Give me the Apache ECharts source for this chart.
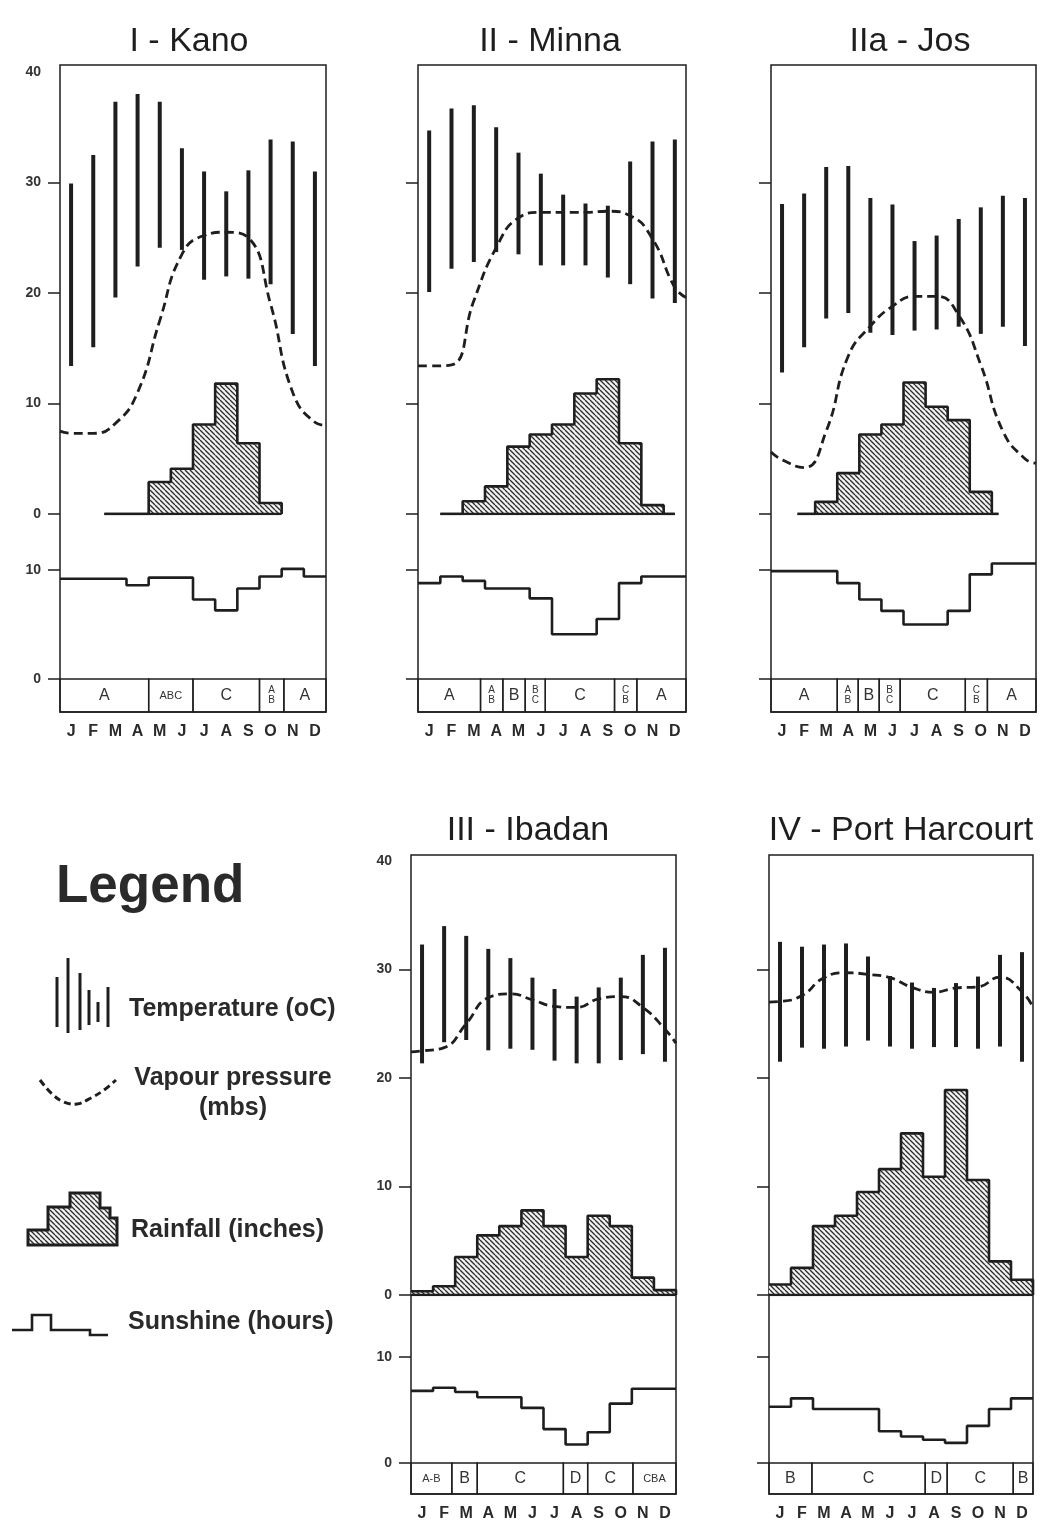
<!DOCTYPE html>
<html>
<head>
<meta charset="utf-8">
<script src="https://cdn.jsdelivr.net/npm/echarts@6/dist/echarts.min.js"></script>
<style>
  html, body { margin: 0; padding: 0; background: #fff; }
  #chart { width: 1047px; height: 1533px; }
</style>
</head>
<body>
<div id="chart"></div>
<script>
// month letters along every panel
const months = ['J', 'F', 'M', 'A', 'M', 'J', 'J', 'A', 'S', 'O', 'N', 'D'];

// I - Kano
const kanoTmax = [29.9, 32.5, 37.3, 38.0, 37.3, 33.1, 31.0, 29.2, 31.1, 33.9, 33.7, 31.0];
const kanoTmin = [13.4, 15.1, 19.6, 22.4, 24.1, 23.9, 21.2, 21.5, 21.3, 20.8, 16.3, 13.4];
const kanoVap = [7.3, 7.3, 8.2, 11.0, 17.5, 23.5, 25.2, 25.5, 25.0, 19.0, 11.0, 8.3];
const kanoVapEdge = [7.5, 8.0];
const kanoRain = [null, null, 0, 0, 2.9, 4.1, 8.1, 11.8, 6.4, 1.0, null, null];
const kanoRainSpan = [2, 10];
const kanoSun = [9.2, 9.2, 9.2, 8.6, 9.3, 9.3, 7.3, 6.3, 8.3, 9.4, 10.1, 9.4];
const kanoAir = [[0, 4, 'A'], [4, 6, 'ABC'], [6, 9, 'C'], [9, 10.1, 'A\nB'], [10.1, 12, 'A']];

// II - Minna
const minnaTmax = [34.7, 36.7, 37.0, 35.0, 32.7, 30.8, 28.9, 28.1, 27.9, 31.9, 33.7, 33.9];
const minnaTmin = [20.1, 22.2, 22.8, 23.7, 23.5, 22.5, 22.5, 22.5, 21.4, 20.8, 19.5, 19.1];
const minnaVap = [13.4, 13.5, 19.3, 24.1, 26.8, 27.3, 27.3, 27.3, 27.4, 27.0, 24.9, 20.5];
const minnaVapEdge = [13.4, 19.6];
const minnaRain = [null, 0, 1.15, 2.5, 6.1, 7.2, 8.1, 10.9, 12.2, 6.4, 0.8, 0];
const minnaRainSpan = [1, 11.5];
const minnaSun = [8.8, 9.4, 9.0, 8.3, 8.3, 7.4, 4.1, 4.1, 5.5, 8.8, 9.4, 9.4];
const minnaAir = [[0, 2.8, 'A'], [2.8, 3.8, 'A\nB'], [3.8, 4.8, 'B'], [4.8, 5.7, 'B\nC'], [5.7, 8.8, 'C'], [8.8, 9.8, 'C\nB'], [9.8, 12, 'A']];

// IIa - Jos
const josTmax = [28.05, 29.0, 31.4, 31.5, 28.6, 28.0, 24.7, 25.2, 26.7, 27.75, 28.8, 28.6];
const josTmin = [12.8, 15.1, 17.7, 18.2, 16.4, 16.2, 16.6, 16.7, 16.95, 16.3, 16.95, 15.2];
const josVap = [4.9, 4.2, 7.5, 14.3, 17.0, 18.8, 19.7, 19.7, 18.0, 13.5, 7.5, 5.0];
const josVapEdge = [5.6, 4.6];
const josRain = [null, 0, 1.1, 3.7, 7.2, 8.1, 11.9, 9.7, 8.5, 2.0, 0, null];
const josRainSpan = [1.2, 10.3];
const josSun = [9.9, 9.9, 9.9, 8.8, 7.3, 6.25, 5.0, 5.0, 6.25, 9.6, 10.6, 10.6];
const josAir = [[0, 3, 'A'], [3, 3.95, 'A\nB'], [3.95, 4.9, 'B'], [4.9, 5.85, 'B\nC'], [5.85, 8.8, 'C'], [8.8, 9.8, 'C\nB'], [9.8, 12, 'A']];

// III - Ibadan
const ibadanTmax = [32.3, 34.0, 33.1, 31.9, 31.05, 29.25, 28.2, 27.5, 28.35, 29.25, 31.35, 32.0];
const ibadanTmin = [21.35, 23.3, 23.5, 22.55, 22.7, 22.6, 21.6, 21.35, 21.35, 21.65, 22.2, 21.5];
const ibadanVap = [22.5, 22.8, 25.0, 27.4, 27.75, 27.2, 26.6, 26.5, 27.3, 27.5, 26.5, 24.5];
const ibadanVapEdge = [22.4, 23.2];
const ibadanRain = [0.34, 0.8, 3.5, 5.5, 6.35, 7.8, 6.35, 3.5, 7.3, 6.35, 1.6, 0.45];
const ibadanRainSpan = [0, 12];
const ibadanSun = [6.8, 7.1, 6.7, 6.2, 6.2, 5.2, 3.2, 1.75, 2.9, 5.6, 7.0, 7.0];
const ibadanAir = [[0, 1.85, 'A-B'], [1.85, 3, 'B'], [3, 6.9, 'C'], [6.9, 8, 'D'], [8, 10.05, 'C'], [10.05, 12, 'CBA']];

// IV - Port Harcourt
const phTmax = [32.55, 32.1, 32.3, 32.4, 31.2, 29.4, 28.8, 28.3, 28.75, 29.35, 31.35, 31.6];
const phTmin = [21.5, 22.8, 22.7, 22.9, 23.45, 22.9, 22.7, 22.85, 22.85, 22.7, 22.9, 21.5];
const phVap = [27.05, 27.6, 29.25, 29.7, 29.55, 29.25, 28.35, 27.9, 28.3, 28.4, 29.3, 27.95];
const phVapEdge = [27.0, 26.5];
const phRain = [0.97, 2.5, 6.35, 7.3, 9.5, 11.6, 14.9, 10.9, 18.9, 10.6, 3.1, 1.4];
const phRainSpan = [0, 12];
const phSun = [5.3, 6.1, 5.1, 5.1, 5.1, 3.0, 2.5, 2.2, 1.9, 3.5, 5.1, 6.1];
const phAir = [[0, 1.95, 'B'], [1.95, 7.1, 'C'], [7.1, 8.1, 'D'], [8.1, 11.1, 'C'], [11.1, 12, 'B']];

const tempTicks = [0, 10, 20, 30];
const tempLabels = [0, 10, 20, 30, 40];
const sunTicks = [0, 10];

const INK = '#1e1e1e';
const FONT = '"Liberation Sans", Arial, sans-serif';

// rows of panels (pixel layout)
const rows = {
  top:    { frameTop: 65,  tTop: 72,  tZero: 514,  sTop: 570,  sZero: 679,  stripBot: 712,  titleY: 42 },
  bottom: { frameTop: 855, tTop: 861, tZero: 1295, sTop: 1357, sZero: 1463, stripBot: 1494, titleY: 831 }
};

const panels = [
  { title: 'I - Kano', titleX: 189, left: 60, right: 326, row: rows.top, labels: true,
    tmax: kanoTmax, tmin: kanoTmin, vap: kanoVap, vapEdge: kanoVapEdge, rain: kanoRain, rainSpan: kanoRainSpan, sun: kanoSun, air: kanoAir },
  { title: 'II - Minna', titleX: 550, left: 418, right: 686, row: rows.top, labels: false,
    tmax: minnaTmax, tmin: minnaTmin, vap: minnaVap, vapEdge: minnaVapEdge, rain: minnaRain, rainSpan: minnaRainSpan, sun: minnaSun, air: minnaAir },
  { title: 'IIa - Jos', titleX: 910, left: 771, right: 1036, row: rows.top, labels: false,
    tmax: josTmax, tmin: josTmin, vap: josVap, vapEdge: josVapEdge, rain: josRain, rainSpan: josRainSpan, sun: josSun, air: josAir },
  { title: 'III - Ibadan', titleX: 528, left: 411, right: 676, row: rows.bottom, labels: true,
    tmax: ibadanTmax, tmin: ibadanTmin, vap: ibadanVap, vapEdge: ibadanVapEdge, rain: ibadanRain, rainSpan: ibadanRainSpan, sun: ibadanSun, air: ibadanAir },
  { title: 'IV - Port Harcourt', titleX: 901, left: 769, right: 1033, row: rows.bottom, labels: false,
    tmax: phTmax, tmin: phTmin, vap: phVap, vapEdge: phVapEdge, rain: phRain, rainSpan: phRainSpan, sun: phSun, air: phAir }
];

// diagonal hatching used for rainfall
function makeHatch() {
  const s = 5;
  const c = document.createElement('canvas');
  c.width = s; c.height = s;
  const g = c.getContext('2d');
  g.fillStyle = '#f2f2f2';
  g.fillRect(0, 0, s, s);
  g.strokeStyle = '#2a2a2a';
  g.lineWidth = 1.3;
  g.beginPath();
  [-s, 0, s].forEach(o => { g.moveTo(o, 0); g.lineTo(o + s, s); });
  g.stroke();
  return c;
}
const hatchFill = { image: makeHatch(), repeat: 'repeat' };

function hiddenX(gi) {
  return { type: 'value', gridIndex: gi, min: 0, max: 12, show: false, splitLine: { show: false } };
}
function hiddenY(gi) {
  return { type: 'value', gridIndex: gi, min: 0, max: 1, show: false, splitLine: { show: false } };
}
function valueY(gi, max, ticks, labels) {
  return {
    type: 'value', gridIndex: gi, min: 0, max: max,
    axisLine: { show: false },
    splitLine: { show: false },
    axisTick: { show: true, customValues: ticks, length: 12, lineStyle: { color: INK, width: 1.5 } },
    axisLabel: { show: !!labels, customValues: labels || ticks, margin: 19, fontSize: 14, fontWeight: 'bold', color: '#333', fontFamily: FONT }
  };
}
function monthAxis(gi) {
  return {
    type: 'value', gridIndex: gi, min: 0, max: 12,
    axisLine: { show: false }, axisTick: { show: false }, splitLine: { show: false },
    axisLabel: {
      customValues: months.map((m, i) => i + 0.5),
      formatter: v => months[Math.floor(v)],
      margin: 12, fontSize: 16, fontWeight: 'bold', color: '#2a2a2a', fontFamily: FONT
    }
  };
}

const grid = [], xAxis = [], yAxis = [], series = [], graphic = [];

panels.forEach((p, k) => {
  const r = p.row;
  const w = p.right - p.left;
  const base = 4 * k;
  grid.push({ left: p.left, top: r.frameTop, width: w, height: r.stripBot - r.frameTop, show: true,
    borderColor: INK, borderWidth: 1.5, backgroundColor: 'transparent', outerBoundsMode: 'none' });
  grid.push({ left: p.left, top: r.tTop, width: w, height: r.tZero - r.tTop, outerBoundsMode: 'none' });
  grid.push({ left: p.left, top: r.sTop, width: w, height: r.sZero - r.sTop, outerBoundsMode: 'none' });
  grid.push({ left: p.left, top: r.sZero, width: w, height: r.stripBot - r.sZero, outerBoundsMode: 'none' });

  xAxis.push(hiddenX(base), hiddenX(base + 1), hiddenX(base + 2), monthAxis(base + 3));
  yAxis.push(hiddenY(base),
    valueY(base + 1, 40, tempTicks, p.labels ? tempLabels : null),
    valueY(base + 2, 10, sunTicks, p.labels ? sunTicks : null),
    hiddenY(base + 3));

  const up = base + 1, sn = base + 2, st = base + 3;

  // rainfall: hatched columns
  const rainCols = [];
  p.rain.forEach((v, m) => { if (v) rainCols.push([m, v]); });
  series.push({
    type: 'custom', xAxisIndex: up, yAxisIndex: up, z: 2, silent: true,
    data: rainCols, encode: { x: 0, y: 1 },
    renderItem: (params, api) => {
      const m = api.value(0), v = api.value(1);
      const a = api.coord([m, 0]), b = api.coord([m + 1, v]);
      return { type: 'rect', shape: { x: a[0], y: b[1], width: b[0] - a[0], height: a[1] - b[1] },
        style: { fill: hatchFill } };
    }
  });
  // rainfall outline (stepped)
  const outline = [];
  p.rain.forEach((v, m) => { if (v !== null) outline.push([Math.max(m, p.rainSpan[0]), v]); });
  outline.push([p.rainSpan[1], 0]);
  series.push({
    type: 'line', xAxisIndex: up, yAxisIndex: up, z: 3, step: 'end', symbol: 'none', silent: true,
    data: outline, lineStyle: { color: INK, width: 2.6 }
  });
  series.push({
    type: 'line', xAxisIndex: up, yAxisIndex: up, z: 3, symbol: 'none', silent: true,
    data: [[p.rainSpan[0], 0], [p.rainSpan[1], 0]], lineStyle: { color: INK, width: 2.6 }
  });

  // vapour pressure (dashed)
  const vap = [[0, p.vapEdge[0]]].concat(p.vap.map((v, m) => [m + 0.5, v]), [[12, p.vapEdge[1]]]);
  series.push({
    type: 'line', xAxisIndex: up, yAxisIndex: up, z: 4, smooth: 0.5, symbol: 'none', silent: true,
    data: vap, lineStyle: { color: INK, width: 2.8, type: [9, 5] }
  });

  // temperature range bars
  series.push({
    type: 'custom', xAxisIndex: up, yAxisIndex: up, z: 5, silent: true,
    data: p.tmax.map((hi, m) => [m + 0.5, p.tmin[m], hi]), encode: { x: 0, y: [1, 2] },
    renderItem: (params, api) => {
      const x = api.value(0);
      const a = api.coord([x, api.value(1)]), b = api.coord([x, api.value(2)]);
      return { type: 'line', shape: { x1: a[0], y1: a[1], x2: b[0], y2: b[1] },
        style: { stroke: INK, lineWidth: 4, lineCap: 'butt' } };
    }
  });

  // sunshine (stepped)
  series.push({
    type: 'line', xAxisIndex: sn, yAxisIndex: sn, z: 4, step: 'end', symbol: 'none', silent: true, clip: false,
    data: p.sun.map((v, m) => [m, v]).concat([[12, p.sun[11]]]),
    lineStyle: { color: INK, width: 2.6 }
  });

  // air mass strip
  const air = p.air;
  series.push({
    type: 'custom', xAxisIndex: st, yAxisIndex: st, z: 4, silent: true,
    data: air.map(d => [d[0], d[1]]), encode: { x: [0, 1] },
    renderItem: (params, api) => {
      const a = api.coord([api.value(0), 0]), b = api.coord([api.value(1), 1]);
      const lab = air[params.dataIndex][2];
      const stacked = lab.indexOf('\n') >= 0;
      const size = stacked ? 10 : (lab.length > 1 ? 11 : 16);
      return {
        type: 'group', children: [
          { type: 'rect', shape: { x: a[0], y: b[1], width: b[0] - a[0], height: a[1] - b[1] },
            style: { fill: 'none', stroke: INK, lineWidth: 1.4 } },
          { type: 'text', x: (a[0] + b[0]) / 2, y: (a[1] + b[1]) / 2,
            style: { text: lab, fill: '#333', font: size + 'px ' + FONT, lineHeight: stacked ? 10 : size,
              textAlign: 'center', textVerticalAlign: 'middle', align: 'center', verticalAlign: 'middle' } }
        ]
      };
    }
  });

  graphic.push({ type: 'text', x: p.titleX, y: r.titleY, silent: true,
    style: { text: p.title, fill: INK, font: '34px ' + FONT,
      textAlign: 'center', textVerticalAlign: 'middle', align: 'center', verticalAlign: 'middle' } });
});

// legend block (drawn, lower left)
function legendText(text, x, y, size, weight, align) {
  return { type: 'text', x: x, y: y, silent: true,
    style: { text: text, fill: '#2a2a2a', font: weight + ' ' + size + 'px ' + FONT,
      textAlign: align, textVerticalAlign: 'middle', align: align, verticalAlign: 'middle' } };
}
graphic.push(legendText('Legend', 56, 887, 53, 'bold', 'left'));
[[57, 977, 1027], [68, 958, 1033], [80, 973, 1030], [89, 990, 1025], [98, 1002, 1022], [108, 987, 1027]].forEach(b => {
  graphic.push({ type: 'line', silent: true, shape: { x1: b[0], y1: b[1], x2: b[0], y2: b[2] },
    style: { stroke: INK, lineWidth: 3 } });
});
graphic.push(legendText('Temperature (oC)', 129, 1009, 25, 'bold', 'left'));
graphic.push({ type: 'polyline', silent: true,
  shape: { points: [[40, 1080], [52, 1094], [64, 1102], [77, 1104], [91, 1098], [104, 1090], [116, 1080]], smooth: 0.4 },
  style: { stroke: INK, lineWidth: 3, fill: null, lineDash: [7, 4] } });
graphic.push(legendText('Vapour pressure', 233, 1078, 25, 'bold', 'center'));
graphic.push(legendText('(mbs)', 233, 1108, 25, 'bold', 'center'));
graphic.push({ type: 'polygon', silent: true,
  shape: { points: [[28, 1245], [28, 1230], [48, 1230], [48, 1207], [70, 1207], [70, 1193], [100, 1193], [100, 1208],
    [110, 1208], [110, 1218], [117, 1218], [117, 1245]] },
  style: { fill: hatchFill, stroke: INK, lineWidth: 3 } });
graphic.push(legendText('Rainfall (inches)', 131, 1230, 25, 'bold', 'left'));
graphic.push({ type: 'polyline', silent: true,
  shape: { points: [[12, 1330], [32, 1330], [32, 1315], [51, 1315], [51, 1330], [90, 1330], [90, 1335], [108, 1335]] },
  style: { stroke: INK, lineWidth: 2.6, fill: null } });
graphic.push(legendText('Sunshine (hours)', 128, 1322, 25, 'bold', 'left'));

const chart = echarts.init(document.getElementById('chart'), null, { renderer: 'canvas' });
chart.setOption({
  animation: false,
  backgroundColor: '#fff',
  textStyle: { fontFamily: FONT },
  grid: grid,
  xAxis: xAxis,
  yAxis: yAxis,
  series: series,
  graphic: graphic
});
</script>
</body>
</html>
